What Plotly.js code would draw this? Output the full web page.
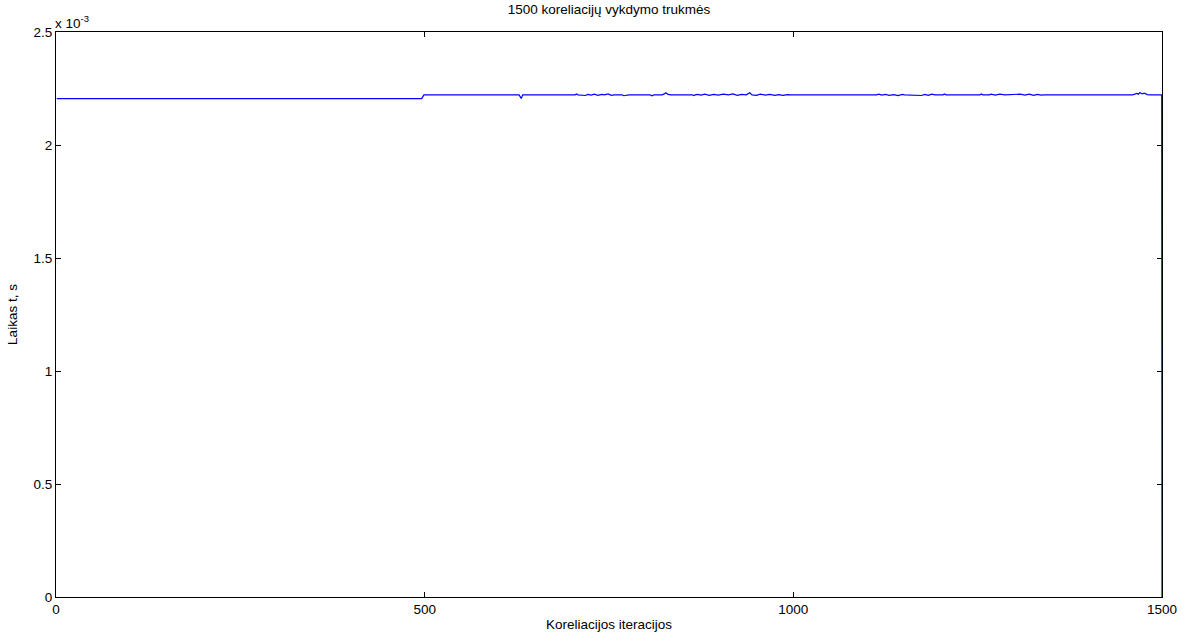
<!DOCTYPE html>
<html>
<head>
<meta charset="utf-8">
<script src="https://cdn.plot.ly/plotly-3.0.1.min.js"></script>
<style>html,body{margin:0;padding:0;background:#fff;}#chart{width:1188px;height:637px;}</style>
</head>
<body>
<div id="chart"></div>
<script>
var iterations = [1,496,499,628,631,633,704,706,708,716,718,721,726,730,735,740,744,749,753,757,768,770,774,777,806,808,811,822,825,827,830,834,863,865,867,870,875,880,886,892,898,905,912,918,924,930,936,941,944,950,955,962,968,975,980,986,992,996,1113,1116,1120,1125,1130,1136,1142,1148,1151,1171,1174,1178,1183,1188,1192,1203,1205,1207,1253,1255,1257,1266,1268,1274,1280,1287,1305,1308,1314,1320,1326,1331,1336,1340,1460,1463,1466,1468,1470,1473,1476,1480,1484,1499.6,1500];
// Execution time, seconds
var times = [0.002205,0.002205,0.002222,0.002222,0.002206,0.002222,0.002222,0.002226,0.002222,0.002222,0.002219,0.002224,0.002221,0.002225,0.002220,0.002224,0.002222,0.002226,0.002220,0.002222,0.002222,0.002218,0.002219,0.002222,0.002222,0.002218,0.002222,0.002222,0.002226,0.002231,0.002224,0.002222,0.002222,0.002219,0.002222,0.002224,0.002221,0.002225,0.002220,0.002224,0.002221,0.002225,0.002222,0.002226,0.002220,0.002224,0.002222,0.002231,0.002222,0.002220,0.002225,0.002221,0.002224,0.002220,0.002223,0.002220,0.002223,0.002222,0.002222,0.002225,0.002221,0.002224,0.002220,0.002223,0.002219,0.002224,0.002222,0.002222,0.002219,0.002224,0.002220,0.002225,0.002222,0.002222,0.002226,0.002222,0.002222,0.002226,0.002222,0.002222,0.002225,0.002221,0.002225,0.002222,0.002222,0.002225,0.002221,0.002225,0.002220,0.002224,0.002221,0.002222,0.002222,0.002226,0.002228,0.002225,0.002232,0.002226,0.002229,0.002223,0.002222,0.002222,0];
var xTicks = [0,500,1000,1500];
var yTickVals = [0,0.0005,0.001,0.0015,0.002,0.0025];
var yTickText = ['0','0.5','1','1.5','2','2.5'];

var font = {family:'"Liberation Sans", Arial, sans-serif', size:13.5, color:'#000'};
var trace = {
  x: iterations, y: times, type:'scatter', mode:'lines', cliponaxis:false,
  line:{color:'#0000ff', width:1.2}, hoverinfo:'x+y'
};
var layout = {
  width:1188, height:637,
  margin:{l:56, r:26, t:32, b:40},
  paper_bgcolor:'#fff', plot_bgcolor:'#fff',
  font: font,
  showlegend:false,
  title:{text:'1500 koreliacijų vykdymo trukmės', font:font, x:0.5126, xanchor:'center', y:0.993, yanchor:'top'},
  xaxis:{
    range:[0,1500], tickvals:xTicks, ticktext:xTicks.map(String),
    ticks:'inside', ticklen:5, tickcolor:'#000', showline:true, linecolor:'#000', linewidth:1,
    mirror:'ticks', showgrid:false, zeroline:false, tickfont:font, layer:'below traces',
    title:{text:'Koreliacijos iteracijos', font:font, standoff:3}
  },
  yaxis:{
    range:[0,0.0025], tickvals:yTickVals, ticktext:yTickText,
    ticks:'inside', ticklen:5, tickcolor:'#000', showline:true, linecolor:'#000', linewidth:1,
    mirror:'ticks', showgrid:false, zeroline:false, tickfont:font, layer:'below traces',
    title:{text:'Laikas t, s', font:font, standoff:12}
  },
  annotations:[{
    text:'x 10<sup>-3</sup>', xref:'paper', yref:'paper', x:0, y:1, xanchor:'left', yanchor:'bottom',
    showarrow:false, font:font, xshift:-3, yshift:-1
  }]
};
Plotly.newPlot('chart',[trace],layout,{displayModeBar:false, staticPlot:true});
</script>
</body>
</html>
